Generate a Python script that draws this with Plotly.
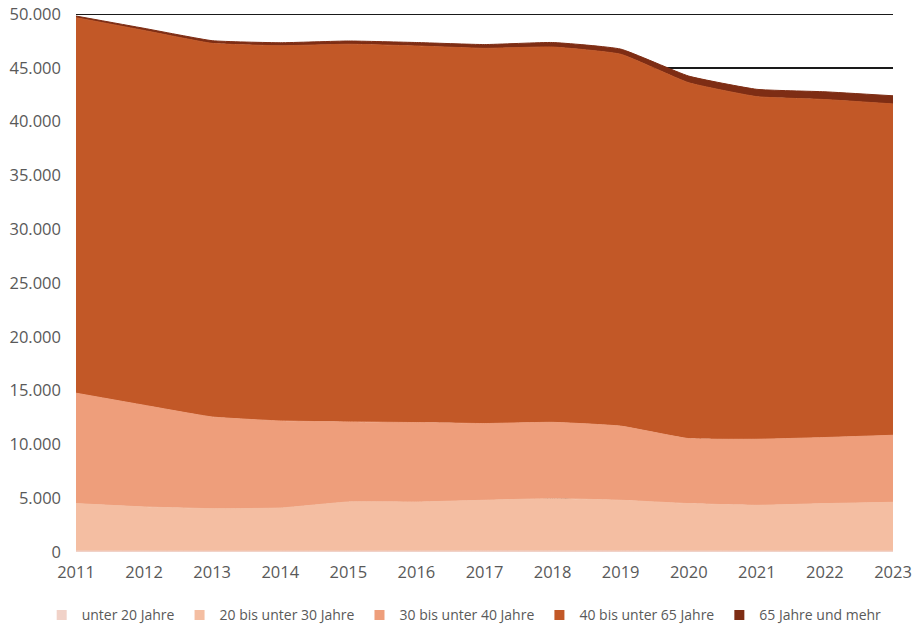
import plotly.graph_objects as go

years = list(range(2011, 2024))

unter_20 = [90, 85, 80, 80, 85, 90, 95, 100, 95, 90, 85, 80, 80]
von_20_bis_30 = [4410, 4105, 3950, 4010, 4565, 4560, 4715, 4860, 4715, 4410, 4255, 4420, 4540]
von_30_bis_40 = [10260, 9450, 8520, 8090, 7440, 7380, 7130, 7090, 6890, 6040, 6140, 6140, 6230]
von_40_bis_65 = [34900, 34830, 34720, 34870, 35100, 35000, 34870, 34880, 34560, 33070, 31840, 31410, 30790]
ab_65 = [150, 200, 250, 280, 300, 320, 350, 420, 480, 620, 680, 720, 760]

y_ticks = list(range(0, 50001, 5000))

series = [
    ("unter 20 Jahre", unter_20, "#F1D2C8"),
    ("20 bis unter 30 Jahre", von_20_bis_30, "#F4BEA2"),
    ("30 bis unter 40 Jahre", von_30_bis_40, "#EE9E7B"),
    ("40 bis unter 65 Jahre", von_40_bis_65, "#C25827"),
    ("65 Jahre und mehr", ab_65, "#7E2D14"),
]

fig = go.Figure()
for name, values, color in series:
    # stacked area band; a thin edge in the band colour closes seams between bands
    fig.add_trace(go.Scatter(
        x=years, y=values, name=name, mode="lines",
        stackgroup="one", fillcolor=color, legendgroup=name, showlegend=False,
        line=dict(width=1, color=color, shape="spline", smoothing=0.4),
        hoverinfo="x+y+name",
    ))
for name, values, color in series:
    # square legend key for each band
    fig.add_trace(go.Scatter(
        x=[None], y=[None], name=name, mode="markers", legendgroup=name,
        marker=dict(symbol="square", size=10, color=color),
    ))

# top gridline sits on the axis edge, so draw it explicitly
fig.add_shape(type="line", xref="paper", yref="y", x0=0, x1=1,
              y0=y_ticks[-1], y1=y_ticks[-1], layer="below",
              line=dict(color="#1a1a1a", width=2))

font_grey = "#595959"
fig.update_layout(
    width=914, height=629,
    margin=dict(l=76, r=21, t=14, b=77, autoexpand=False),
    plot_bgcolor="white", paper_bgcolor="white",
    separators=",.",
    font=dict(family="Open Sans, Roboto, sans-serif", size=15, color=font_grey),
    showlegend=True,
    legend=dict(orientation="h", x=-0.042, xanchor="left", y=-0.1177, yanchor="middle",
                font=dict(family="Open Sans, Roboto, sans-serif", size=14, color=font_grey),
                itemwidth=30, traceorder="normal", bgcolor="rgba(0,0,0,0)"),
    xaxis=dict(range=[2011, 2023], tickmode="array", tickvals=years,
               ticktext=[str(y) for y in years], showgrid=False, zeroline=False,
               showline=False, ticks="", ticklabelstandoff=8, automargin=False,
               tickfont=dict(size=16.5, color=font_grey)),
    yaxis=dict(range=[0, 50000], tickmode="array", tickvals=y_ticks,
               tickformat=",d", showgrid=True, gridcolor="#1a1a1a", gridwidth=2,
               zeroline=False, showline=False, ticks="", ticklabelstandoff=14,
               automargin=False, tickfont=dict(size=16.5, color=font_grey)),
)

fig.write_html("out.html")
